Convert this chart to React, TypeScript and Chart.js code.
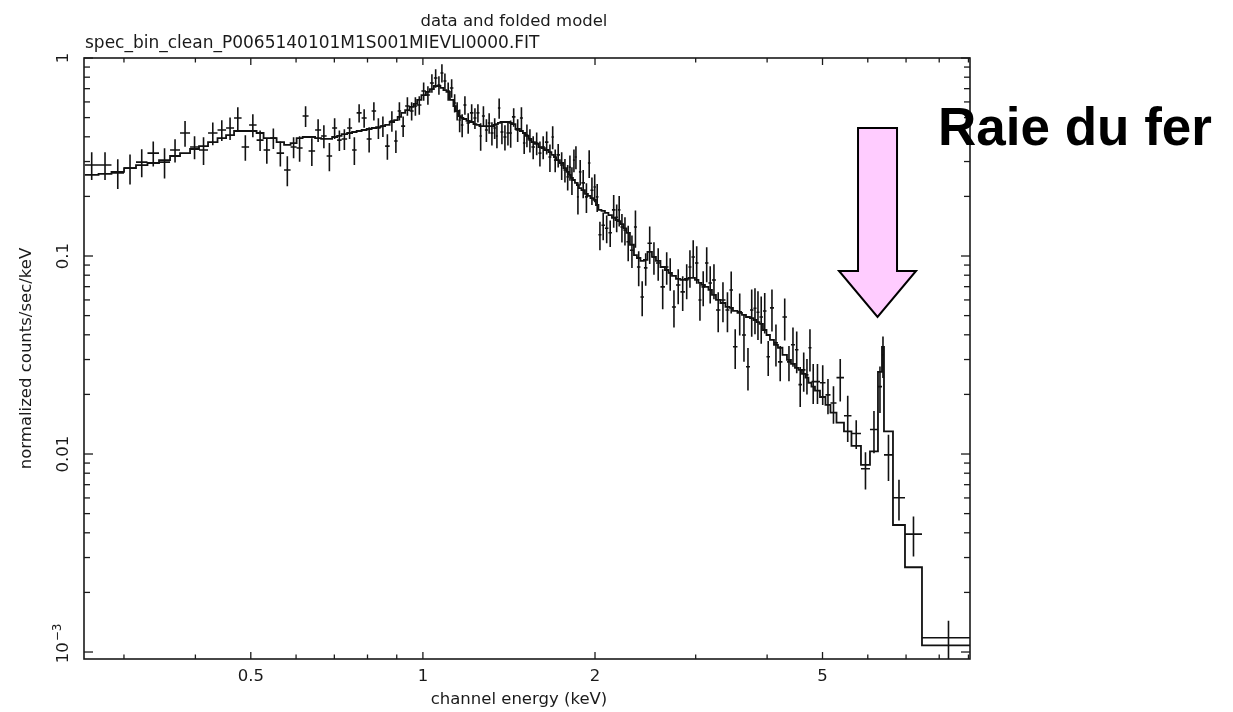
import React, { useEffect, useRef } from "react";
import { Chart, registerables } from "chart.js";

Chart.register(...registerables);

// ---- spectrum bins (keV): N+1 edges for N channels ----
const binEdges = [
  0.2563, 0.2708, 0.2853, 0.3001, 0.3149, 0.3298, 0.3455, 0.3612, 0.376, 0.3915,
  0.4059, 0.4209, 0.4373, 0.4526, 0.4674, 0.4818, 0.4966, 0.5118, 0.5264, 0.5404,
  0.5548, 0.5717, 0.5869, 0.6013, 0.616,
  0.631, 0.6478, 0.6637, 0.6786, 0.6938, 0.7079, 0.7208, 0.737, 0.7519, 0.7657,
  0.7813, 0.7973, 0.8134, 0.8283, 0.8435, 0.8589, 0.8746, 0.8906, 0.9033, 0.9161,
  0.931, 0.948, 0.9634, 0.9771, 0.994, 1.0122, 1.0286, 1.0453, 1.0602, 1.0731,
  1.0861, 1.0994, 1.1149, 1.1307, 1.1422, 1.1537, 1.1654, 1.1772, 1.1916, 1.2085,
  1.2257, 1.2406, 1.2556, 1.2683, 1.2837, 1.2992, 1.3125, 1.3285, 1.342, 1.3527, 1.3664,
  1.3831, 1.4, 1.4169, 1.4313, 1.4516, 1.4781, 1.4961, 1.5112, 1.5295, 1.5482,
  1.5702, 1.5925, 1.6118, 1.6347, 1.6579, 1.6781, 1.6951, 1.7124, 1.7365, 1.7612,
  1.7827, 1.8006, 1.8152, 1.8299, 1.8447, 1.8596, 1.8746, 1.8936, 1.9205, 1.9437,
  1.9635, 1.9874, 2.0076, 2.0278, 2.0525, 2.0816, 2.1111, 2.1412, 2.1716, 2.1935,
  2.2157, 2.2427, 2.2701, 2.3022, 2.3396, 2.368, 2.4016, 2.4357, 2.4704, 2.5155,
  2.5564, 2.6031, 2.6508, 2.6883, 2.7266, 2.771, 2.8215, 2.8731, 2.9138, 2.9494,
  2.9913, 3.0336, 3.0706, 3.1142, 3.1583, 3.2032, 3.2553, 3.3147, 3.3822, 3.4371,
  3.4859, 3.5498, 3.6147, 3.6736, 3.7331, 3.7861, 3.8324, 3.8787, 3.9337, 3.9899,
  4.0462, 4.1119, 4.1785, 4.2551, 4.333, 4.4034, 4.475, 4.5383, 4.6028, 4.6682,
  4.7248, 4.7824, 4.8504, 4.949, 5.0599, 5.1628, 5.2895, 5.4513, 5.6185, 5.8376,
  6.0532, 6.2511, 6.353, 6.4043, 6.6407, 6.9698, 7.4636, 9.24,
];

// data: normalized counts/sec/keV
const counts = [
  0.288, 0.288, 0.263, 0.278, 0.298, 0.331, 0.298, 0.343, 0.418, 0.355,
  0.343, 0.418, 0.433, 0.443, 0.498, 0.355, 0.459, 0.385, 0.343, 0.394,
  0.331, 0.272, 0.355, 0.351,
  0.509, 0.339, 0.433, 0.404, 0.32, 0.443, 0.385, 0.39, 0.443, 0.343,
  0.528, 0.498, 0.39, 0.54, 0.443, 0.453, 0.359, 0.481, 0.381, 0.54,
  0.453, 0.572, 0.54, 0.572, 0.579, 0.681, 0.65, 0.748, 0.793, 0.73,
  0.84, 0.765, 0.681, 0.706, 0.593, 0.54, 0.486, 0.459, 0.579, 0.47,
  0.528, 0.498, 0.528, 0.404, 0.509, 0.433, 0.47, 0.418, 0.443, 0.404, 0.559,
  0.423, 0.399, 0.418, 0.418, 0.504, 0.433, 0.498, 0.372, 0.408, 0.385,
  0.355, 0.372, 0.331, 0.355, 0.376, 0.316, 0.399, 0.305, 0.324, 0.288,
  0.272, 0.251, 0.281, 0.242, 0.305, 0.316, 0.199, 0.266, 0.234, 0.199,
  0.295, 0.215, 0.223, 0.199, 0.128, 0.143, 0.138, 0.131, 0.171, 0.157,
  0.171, 0.14, 0.135, 0.118, 0.107, 0.14, 0.088, 0.0621, 0.0871, 0.116,
  0.0989, 0.0922, 0.0698, 0.088, 0.0821, 0.0553, 0.0714, 0.0659, 0.0757, 0.088,
  0.0989, 0.0922, 0.06, 0.0698, 0.0922, 0.0731, 0.0757, 0.0534, 0.06, 0.0534,
  0.0674, 0.0348, 0.0522, 0.0399, 0.0276, 0.0534, 0.0545, 0.052, 0.0492, 0.0528,
  0.031, 0.0547, 0.0364, 0.0292, 0.0492, 0.0292, 0.0356, 0.0336, 0.0224, 0.0266,
  0.0251, 0.0344, 0.0232, 0.0232, 0.0229, 0.0199, 0.0181, 0.0243, 0.0156, 0.0127,
  0.00842, 0.0133, 0.0219, 0.0317, 0.0099, 0.00601, 0.00394, 0.00118,
];

// 1-sigma errors on the data
const countErrors = [
  0.046, 0.046, 0.045, 0.048, 0.048, 0.048, 0.052, 0.046, 0.062, 0.047,
  0.055, 0.055, 0.052, 0.058, 0.066, 0.052, 0.061, 0.046, 0.051, 0.047,
  0.048, 0.047, 0.043, 0.052,
  0.061, 0.054, 0.057, 0.054, 0.052, 0.053, 0.046, 0.047, 0.053, 0.055,
  0.056, 0.053, 0.057, 0.057, 0.053, 0.054, 0.053, 0.057, 0.05, 0.057,
  0.054, 0.061, 0.057, 0.061, 0.062, 0.072, 0.069, 0.08, 0.085, 0.078,
  0.089, 0.071, 0.072, 0.076, 0.063, 0.057, 0.064, 0.061, 0.062, 0.056,
  0.056, 0.06, 0.056, 0.064, 0.061, 0.057, 0.056, 0.056, 0.053, 0.054, 0.066,
  0.056, 0.058, 0.056, 0.066, 0.054, 0.057, 0.066, 0.045, 0.054, 0.052,
  0.047, 0.049, 0.048, 0.047, 0.05, 0.05, 0.053, 0.04, 0.044, 0.046,
  0.037, 0.037, 0.041, 0.039, 0.04, 0.042, 0.037, 0.039, 0.038, 0.034,
  0.047, 0.034, 0.036, 0.032, 0.021, 0.023, 0.022, 0.02, 0.032, 0.025,
  0.03, 0.023, 0.022, 0.024, 0.02, 0.03, 0.0176, 0.0124, 0.0163, 0.0248,
  0.0185, 0.0172, 0.0159, 0.0164, 0.0154, 0.0118, 0.0144, 0.0132, 0.0152, 0.0188,
  0.0211, 0.0197, 0.0129, 0.014, 0.0185, 0.0156, 0.0152, 0.0122, 0.0137, 0.0122,
  0.0162, 0.0079, 0.0125, 0.0107, 0.0067, 0.0143, 0.0143, 0.0143, 0.0132, 0.0122,
  0.0062, 0.0131, 0.0087, 0.0059, 0.0118, 0.0059, 0.008, 0.008, 0.0051, 0.006,
  0.0051, 0.0083, 0.0053, 0.0053, 0.0052, 0.004, 0.0039, 0.0059, 0.0041, 0.0021,
  0.0018, 0.0032, 0.0058, 0.0075, 0.0026, 0.0014, 0.0009, 0.00026,
];

// folded model in the same channels
const model = [
  0.257, 0.26, 0.266, 0.278, 0.288, 0.295, 0.305, 0.32, 0.331, 0.347,
  0.359, 0.376, 0.394, 0.408, 0.428, 0.428, 0.428, 0.418, 0.394, 0.394,
  0.376, 0.364, 0.372, 0.394,
  0.399, 0.399, 0.394, 0.39, 0.39, 0.399, 0.404, 0.413, 0.418, 0.423,
  0.428, 0.433, 0.438, 0.443, 0.448, 0.453, 0.459, 0.475, 0.486, 0.504,
  0.528, 0.546, 0.566, 0.586, 0.614, 0.65, 0.674, 0.697, 0.722, 0.722,
  0.706, 0.689, 0.674, 0.614, 0.572, 0.54, 0.509, 0.498, 0.492, 0.481,
  0.475, 0.464, 0.459, 0.453, 0.453, 0.453, 0.453, 0.453, 0.459, 0.464, 0.47,
  0.475, 0.475, 0.475, 0.47, 0.464, 0.438, 0.428, 0.418, 0.404, 0.39,
  0.376, 0.368, 0.355, 0.351, 0.343, 0.335, 0.324, 0.316, 0.305, 0.295,
  0.278, 0.266, 0.257, 0.248, 0.242, 0.234, 0.228, 0.22, 0.215, 0.206,
  0.201, 0.196, 0.192, 0.181, 0.171, 0.169, 0.165, 0.161, 0.156, 0.152,
  0.15, 0.145, 0.138, 0.131, 0.114, 0.101, 0.0977, 0.0944, 0.0955, 0.105,
  0.0989, 0.0944, 0.088, 0.085, 0.0821, 0.0793, 0.0766, 0.0757, 0.0766, 0.0775,
  0.0775, 0.0757, 0.0731, 0.0714, 0.0698, 0.0674, 0.0636, 0.06, 0.0579, 0.0553,
  0.0547, 0.0528, 0.0516, 0.0504, 0.0492, 0.0486, 0.0475, 0.0464, 0.0454, 0.0423,
  0.0399, 0.0377, 0.0356, 0.0344, 0.0317, 0.0299, 0.0285, 0.0272, 0.0266, 0.0254,
  0.0243, 0.0229, 0.0219, 0.0209, 0.0194, 0.0177, 0.0162, 0.0144, 0.013, 0.011,
  0.00882, 0.0103, 0.026, 0.0348, 0.013, 0.00438, 0.00268, 0.00108,
];

// ---- axes ----
const xRange = [0.2554, 9.056];
const yRange = [0.000922, 1];
const xTickValues = [0.3, 0.4, 0.5, 0.6, 0.7, 0.8, 0.9, 1, 2, 3, 4, 5, 6, 7, 8, 9];
const xTickLabels = ["", "", "0.5", "", "", "", "", "1", "2", "", "", "5", "", "", "", ""];
const yMajorValues = [1, 0.1, 0.01, 0.001];
const yMajorLabels = ["1", "0.1", "0.01", "10^-3"];
const yMinorValues = [
  0.9, 0.8, 0.7, 0.6, 0.5, 0.4, 0.3, 0.2,
  0.09, 0.08, 0.07, 0.06, 0.05, 0.04, 0.03, 0.02,
  0.009, 0.008, 0.007, 0.006, 0.005, 0.004, 0.003, 0.002,
];

// ---- texts & annotation ----
const titleText = "data and folded model";
const subtitleText = "spec_bin_clean_P0065140101M1S001MIEVLI0000.FIT";
const xTitle = "channel energy (keV)";
const yTitle = "normalized counts/sec/keV";
const annotationText = "Raie du fer";
const arrowEnergy = 6.24;
const arrowTopValue = 0.443;
const arrowHeadBaseValue = 0.084;
const arrowTipValue = 0.0492;

const FONT = '"DejaVu Sans", sans-serif';
const INK = "#1a1a1a";

export default function App() {
  const ref = useRef<HTMLCanvasElement | null>(null);

  useEffect(() => {
    const canvas = ref.current;
    if (!canvas) return;

    const modelPoints: { x: number; y: number | null }[] = [];
    const crossPoints: { x: number; y: number | null }[] = [];
    for (let i = 0; i < counts.length; i++) {
      const lo = binEdges[i];
      const hi = binEdges[i + 1];
      const c = Math.sqrt(lo * hi);
      modelPoints.push({ x: lo, y: model[i] }, { x: hi, y: model[i] });
      crossPoints.push(
        { x: lo, y: counts[i] },
        { x: hi, y: counts[i] },
        { x: hi, y: null },
        { x: c, y: counts[i] - countErrors[i] },
        { x: c, y: counts[i] + countErrors[i] },
        { x: c, y: null }
      );
    }

    const framePlugin = {
      id: "xspecFrame",
      afterDatasetsDraw(chart: any) {
        const { ctx, scales } = chart;
        const xs = scales.x;
        const ys = scales.y;
        const cx = xs.getPixelForValue(arrowEnergy);
        const topY = ys.getPixelForValue(arrowTopValue);
        const baseY = ys.getPixelForValue(arrowHeadBaseValue);
        const tipY = ys.getPixelForValue(arrowTipValue);
        const sh = 19.5;
        const hh = 38.5;
        ctx.save();
        ctx.beginPath();
        ctx.moveTo(cx - sh, topY);
        ctx.lineTo(cx + sh, topY);
        ctx.lineTo(cx + sh, baseY);
        ctx.lineTo(cx + hh, baseY);
        ctx.lineTo(cx, tipY);
        ctx.lineTo(cx - hh, baseY);
        ctx.lineTo(cx - sh, baseY);
        ctx.closePath();
        ctx.fillStyle = "#ffccff";
        ctx.fill();
        ctx.lineWidth = 2;
        ctx.lineJoin = "miter";
        ctx.strokeStyle = "#000000";
        ctx.stroke();
        ctx.restore();
      },
      afterDraw(chart: any) {
        const { ctx, chartArea, scales } = chart;
        const { left, right, top, bottom } = chartArea;
        const xs = scales.x;
        const ys = scales.y;
        ctx.save();
        ctx.strokeStyle = INK;
        ctx.fillStyle = INK;
        ctx.lineWidth = 1.6;
        ctx.strokeRect(left, top, right - left, bottom - top);

        const seg = (x1: number, y1: number, x2: number, y2: number) => {
          ctx.beginPath();
          ctx.moveTo(x1, y1);
          ctx.lineTo(x2, y2);
          ctx.stroke();
        };

        ctx.lineWidth = 1.3;
        ctx.font = `16.5px ${FONT}`;
        ctx.textAlign = "center";
        ctx.textBaseline = "middle";
        xTickValues.forEach((v, i) => {
          const px = xs.getPixelForValue(v);
          if (px < left || px > right) return;
          const len = xTickLabels[i] ? 7 : 4.5;
          seg(px, bottom, px, bottom - len);
          seg(px, top, px, top + len);
          if (xTickLabels[i]) ctx.fillText(xTickLabels[i], px, 677);
        });

        yMinorValues.forEach((v) => {
          const py = ys.getPixelForValue(v);
          seg(left, py, left + 6, py);
          seg(right, py, right - 6, py);
        });
        yMajorValues.forEach((v, i) => {
          const py = ys.getPixelForValue(v);
          seg(left, py, left + 9, py);
          seg(right, py, right - 9, py);
          const label = yMajorLabels[i];
          ctx.save();
          if (label.indexOf("^") >= 0) {
            const [base, exp] = label.split("^");
            ctx.translate(64, py - 8);
            ctx.rotate(-Math.PI / 2);
            ctx.font = `16.5px ${FONT}`;
            const w1 = ctx.measureText(base).width;
            ctx.font = `12px ${FONT}`;
            const expText = exp.replace("-", "\u2212");
            const w2 = ctx.measureText(expText).width;
            const start = -(w1 + w2) / 2;
            ctx.textAlign = "left";
            ctx.font = `16.5px ${FONT}`;
            ctx.fillText(base, start, 0);
            ctx.font = `12px ${FONT}`;
            ctx.fillText(expText, start + w1 + 1, -6);
          } else {
            ctx.translate(64, py);
            ctx.rotate(-Math.PI / 2);
            ctx.fillText(label, 0, 0);
          }
          ctx.restore();
        });

        // titles
        ctx.font = `16.5px ${FONT}`;
        ctx.textBaseline = "alphabetic";
        ctx.textAlign = "center";
        ctx.fillText(titleText, 514, 26);
        ctx.textAlign = "left";
        ctx.font = `17px ${FONT}`;
        ctx.fillText(subtitleText, 85, 48);
        ctx.font = `16.5px ${FONT}`;
        ctx.textAlign = "center";
        ctx.textBaseline = "middle";
        ctx.fillText(xTitle, 519, 700);
        ctx.save();
        ctx.translate(27, (top + bottom) / 2);
        ctx.rotate(-Math.PI / 2);
        ctx.fillText(yTitle, 0, 0);
        ctx.restore();

        // annotation text
        ctx.fillStyle = "#000000";
        ctx.font = `bold 53px "Liberation Sans", Arial, sans-serif`;
        ctx.textAlign = "left";
        ctx.textBaseline = "alphabetic";
        ctx.fillText(annotationText, 938, 145);
        ctx.restore();
      },
    };

    const chart = new Chart(canvas, {
      type: "line",
      data: {
        datasets: [
          {
            label: "model",
            data: modelPoints as any,
            borderColor: "#111111",
            borderWidth: 1.8,
            pointRadius: 0,
            fill: false,
            tension: 0,
            spanGaps: false,
          },
          {
            label: "data",
            data: crossPoints as any,
            borderColor: "#111111",
            borderWidth: 1.6,
            pointRadius: 0,
            fill: false,
            tension: 0,
            spanGaps: false,
          },
        ],
      },
      options: {
        animation: false,
        responsive: false,
        maintainAspectRatio: false,
        devicePixelRatio: 1,
        events: [],
        layout: { padding: { left: 84, top: 58, right: 263, bottom: 53 } },
        plugins: {
          legend: { display: false },
          tooltip: { enabled: false },
          title: { display: false },
        },
        scales: {
          x: { type: "logarithmic", min: xRange[0], max: xRange[1], display: false },
          y: { type: "logarithmic", min: yRange[0], max: yRange[1], display: false },
        },
      },
      plugins: [framePlugin],
    });

    return () => chart.destroy();
  }, []);

  return (
    <div style={{ position: "absolute", left: 0, top: 0, width: 1233, height: 712, background: "#ffffff" }}>
      <canvas ref={ref} width={1233} height={712} style={{ display: "block", width: 1233, height: 712 }} />
    </div>
  );
}
